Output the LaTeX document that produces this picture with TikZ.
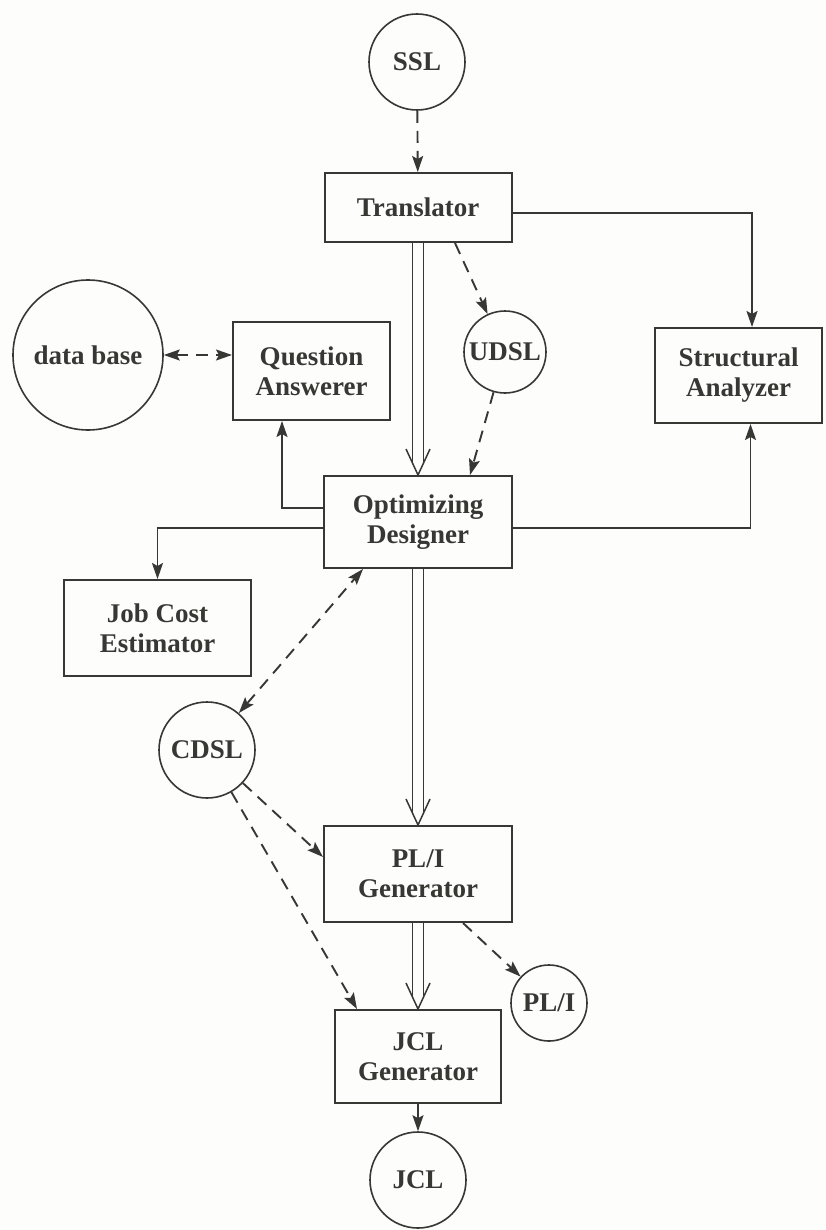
\documentclass[tikz,border=0pt]{standalone}
\usepackage{fontspec}
\setmainfont{Liberation Serif}
\usetikzlibrary{arrows.meta,calc}
\definecolor{ink}{RGB}{55,55,52}
\definecolor{paper}{RGB}{253,253,251}
\newcommand\vtip[1]{\draw[draw=ink, line width=0.75pt, line join=miter] ([xshift=-6pt,yshift=13pt]#1) -- (#1) -- ([xshift=6pt,yshift=13pt]#1);}
\begin{document}
\begin{tikzpicture}[x=0.5pt,y=-0.5pt,
  every node/.style={text=ink, font=\fontsize{13.5}{15}\selectfont\bfseries, align=center},
  box/.style={draw=ink, line width=1pt, rectangle, inner sep=0pt},
  store/.style={draw=ink, line width=0.8pt, circle, inner sep=0pt},
  tip/.tip={Stealth[length=8pt,width=5.5pt,inset=1.5pt]},
  flow/.style={draw=ink, line width=0.95pt, -tip},
  dflow/.style={flow, dash pattern=on 6pt off 4pt},
  twin/.style={draw=ink, line width=0.75pt, double=paper, double distance=4.6pt, shorten >=6.6pt},
]
\fill[paper] (0,0) rectangle (825,1230);
\useasboundingbox (0,0) rectangle (825,1230);

\node[store, minimum size=48pt] (ssl) at (417,62) {SSL};
\node[box, minimum width=93.5pt, minimum height=34.5pt] (tr) at (418,207.5) {Translator};
\node[store, minimum size=75pt] (db) at (88,355) {data base};
\node[box, minimum width=78.5pt, minimum height=49pt] (qa) at (311.5,371) {Question\\Answerer};
\node[store, minimum size=41pt] (udsl) at (505,352) {UDSL};
\node[box, minimum width=83.5pt, minimum height=47.5pt] (sa) at (738.5,375.5) {Structural\\Analyzer};
\node[box, minimum width=94pt, minimum height=46pt] (opt) at (418,522) {Optimizing\\Designer};
\node[box, minimum width=93.5pt, minimum height=48pt] (jce) at (157.5,628) {Job Cost\\Estimator};
\node[store, minimum size=48pt] (cdsl) at (207,750) {CDSL};
\node[box, minimum width=94pt, minimum height=48pt] (plg) at (418,874) {PL/I\\Generator};
\node[store, minimum size=38pt] (pli) at (549,1003) {PL/I};
\node[box, minimum width=83pt, minimum height=46.5pt] (jclg) at (418,1056.5) {JCL\\Generator};
\node[store, minimum size=48pt] (jcl) at (418,1180) {JCL};

\draw[dflow] (ssl) -- (tr);
\draw[twin] (tr) -- (opt);
\vtip{opt.north}
\draw[flow] ([yshift=-2.75pt]tr.east) -| ([xshift=6.75pt]sa.north);
\draw[dflow] ([xshift=18.5pt]tr.south) -- (udsl);
\draw[dflow, tip-tip] (db) -- (db -| qa.west);
\draw[flow] ([yshift=7pt]opt.west) -| ([xshift=-14.75pt]qa.south);
\draw[flow] ([yshift=-3pt]opt.west) -| (jce.north);
\draw[flow] ([yshift=-3pt]opt.east) -| ([xshift=6pt]sa.south);
\draw[dflow] (udsl) -- ([xshift=26pt]opt.north);
\draw[dflow, tip-tip] (cdsl) -- ([xshift=-27.5pt]opt.south);
\draw[twin] (opt) -- (plg);
\vtip{plg.north}
\draw[dflow] (cdsl) -- ([yshift=8.5pt]plg.west);
\draw[dflow] (cdsl) -- ([xshift=-30.5pt]jclg.north);
\draw[twin] (plg) -- (jclg);
\vtip{jclg.north}
\draw[dflow] ([xshift=22.5pt]plg.south) -- (pli);
\draw[flow] (jclg) -- (jcl);
\end{tikzpicture}
\end{document}
